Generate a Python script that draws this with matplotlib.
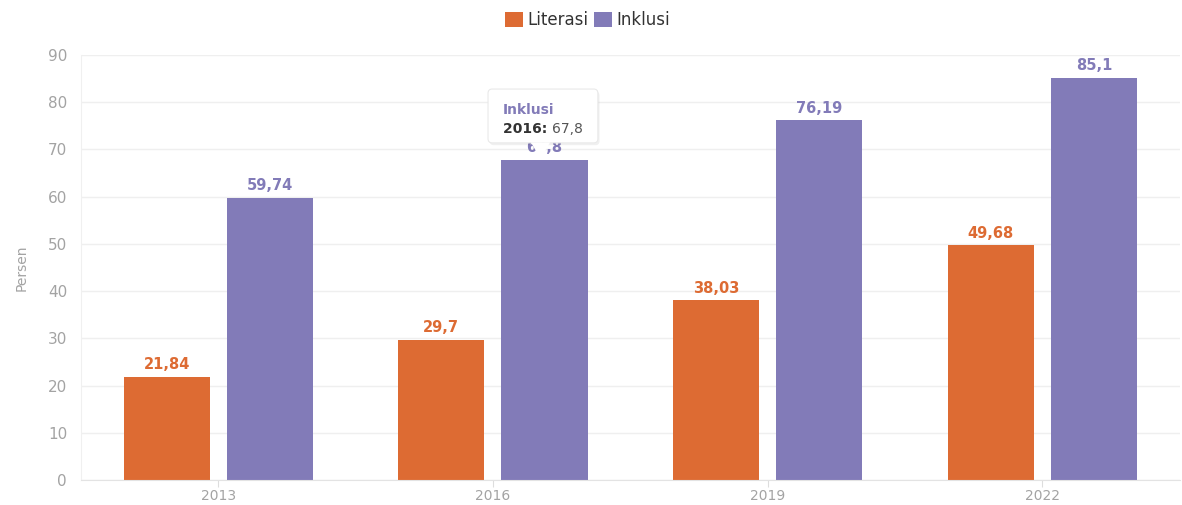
import numpy as np
import matplotlib.pyplot as plt
from matplotlib.patches import FancyBboxPatch, Polygon, Patch

years = ["2013", "2016", "2019", "2022"]
literasi = [21.84, 29.7, 38.03, 49.68]
inklusi = [59.74, 67.8, 76.19, 85.1]
y_ticks = [0, 10, 20, 30, 40, 50, 60, 70, 80, 90]

orange = "#DD6B33"
purple = "#827BB8"
grey = "#a3a3a3"

plt.rcParams['font.family'] = ['DejaVu Sans']

fig = plt.figure(figsize=(11.82, 5.05), dpi=100)
ax = fig.add_axes([0.0685, 0.0495, 0.9295, 0.8415])

x = np.arange(len(years))
w = 0.314
off = 0.188
b1 = ax.bar(x - off, literasi, w, color=orange, zorder=2)
b2 = ax.bar(x + off, inklusi, w, color=purple, zorder=2)

def fmt(v):
    return f"{v:g}".replace(".", ",")

for rect, v in zip(b1, literasi):
    ax.text(rect.get_x() + rect.get_width() / 2, v + 1.0, fmt(v), ha="center", va="bottom",
            color=orange, fontsize=10.5, fontweight="bold", zorder=3)
for rect, v in zip(b2, inklusi):
    ax.text(rect.get_x() + rect.get_width() / 2, v + 1.0, fmt(v), ha="center", va="bottom",
            color=purple, fontsize=10.5, fontweight="bold", zorder=3)

ax.set_xlim(-0.5, len(years) - 0.5)
ax.set_ylim(0, 90)
ax.set_yticks(y_ticks)
ax.set_xticks(x)
ax.set_xticklabels(years)
ax.tick_params(axis="x", labelsize=10, length=5, width=0.8, pad=1.5, color="#dddddd",
               labelcolor=grey)
ax.tick_params(axis="y", labelsize=11, length=0, pad=10, labelcolor=grey)
ax.grid(axis="y", color="#efefef", linewidth=1, zorder=0)
for s in ["top", "right"]:
    ax.spines[s].set_visible(False)
ax.spines["left"].set_color("#f0f0f0")
ax.spines["bottom"].set_color("#e3e3e3")
ax.set_ylabel("Persen", color=grey, fontsize=10, labelpad=14)

# tooltip over the 2016 Inklusi bar
tx = x[1] + off - 0.015
ty = inklusi[1]
bx, by, bw, bh = x[1] - 0.018, ty + 3.6, 0.40, 11.4
shadow = FancyBboxPatch((bx + 0.006, by - 0.5), bw, bh,
                        boxstyle="round,pad=0,rounding_size=0.015", facecolor="#000000",
                        alpha=0.06, edgecolor="none", zorder=4, mutation_aspect=60)
box = FancyBboxPatch((bx, by), bw, bh,
                     boxstyle="round,pad=0,rounding_size=0.015", facecolor="white",
                     edgecolor="#e9e9e9", linewidth=0.8, zorder=5, mutation_aspect=60)
tri = Polygon([[tx - 0.035, by + 0.1], [tx + 0.035, by + 0.1], [tx, ty + 0.3]],
              closed=True, facecolor="white", edgecolor="none", zorder=6)
ax.add_patch(shadow)
ax.add_patch(box)
ax.add_patch(tri)
ax.text(x[1] + 0.037, ty + 10.6, "Inklusi", color=purple, fontsize=10, fontweight="bold",
        va="center", zorder=7)
t1 = ax.text(x[1] + 0.037, ty + 6.5, f"{years[1]}: ", color="#333333", fontsize=10,
             fontweight="bold", va="center", zorder=7)
ax.annotate(fmt(ty), xycoords=t1, xy=(1, 0), va="bottom", color="#555555", fontsize=10,
            zorder=7)

handles = [Patch(facecolor=orange, label="Literasi"), Patch(facecolor=purple, label="Inklusi")]
fig.legend(handles=handles, loc="center", bbox_to_anchor=(0.497, 0.960), ncol=2, frameon=False,
           fontsize=12, handlelength=1.1, handleheight=1.0, handletextpad=0.25,
           columnspacing=0.35, labelcolor="#333333")

fig.savefig("out.png", dpi=100)
